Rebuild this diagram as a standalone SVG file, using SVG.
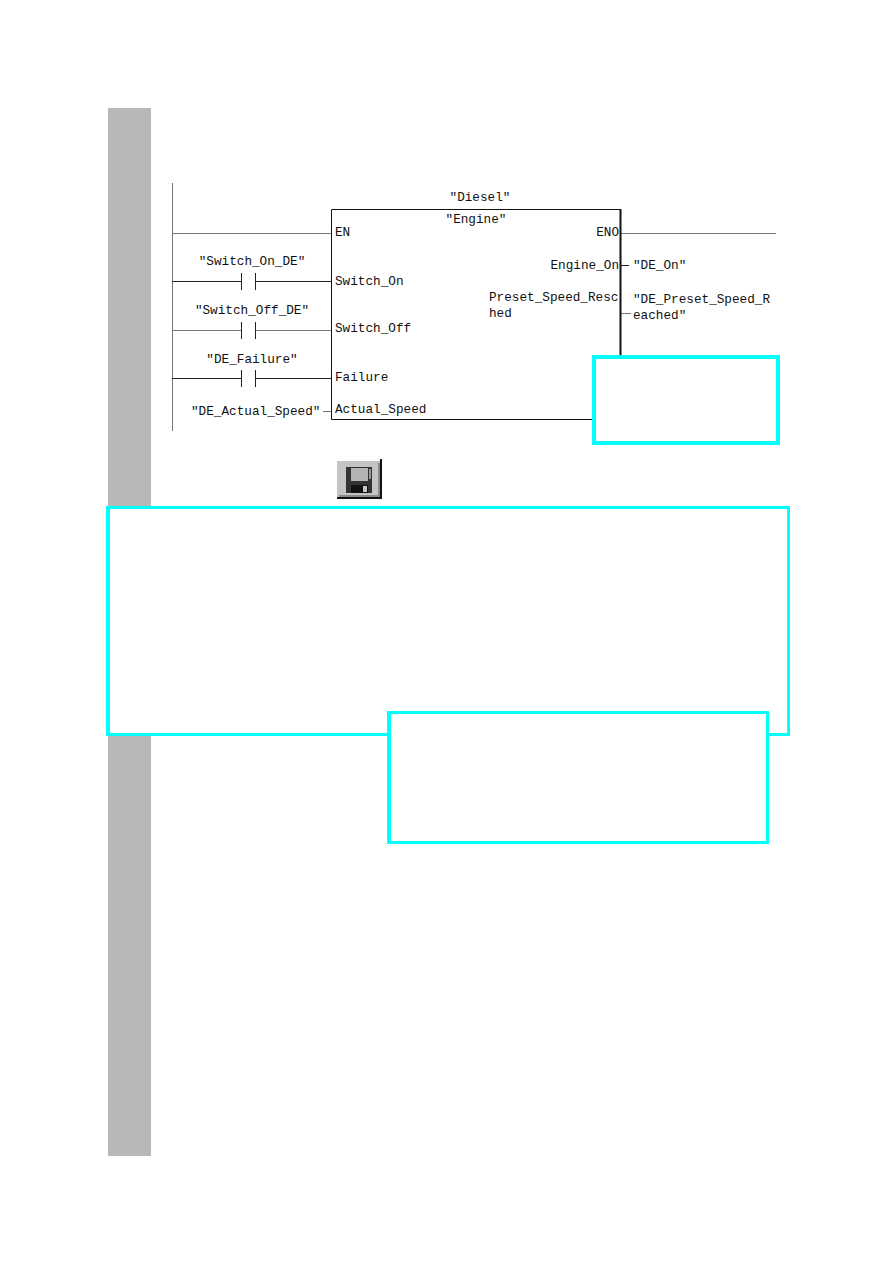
<svg xmlns="http://www.w3.org/2000/svg" width="893" height="1263" viewBox="0 0 893 1263">
  <style>
    text { font-family: "Liberation Mono", "DejaVu Sans Mono", monospace; font-size: 12.7px; fill: #111; }
    .end { text-anchor: end; }
    .mid { text-anchor: middle; }
    .rung { stroke: #222; stroke-width: 1; fill: none; }
    .pale { stroke: #777; stroke-width: 1; fill: none; }
    .face { fill: #fff; }
    .edge { fill: #00ffff; fill-rule: evenodd; }
  </style>
  <rect width="893" height="1263" fill="#fff"/>
  <rect id="margin-band" x="108" y="108" width="43" height="1048" fill="#b8b8b8"/>

  <g id="connectors">
    <path class="pale" d="M172.500 183V431"/>
    <path class="pale" d="M172 233.500H331"/>
    <path class="pale" d="M621 233.500H776"/>
    <path class="rung" d="M172 281.500H241M256 281.500H331M241.500 273V290M255.500 273V290"/>
    <path class="pale" d="M172 330.500H241M256 330.500H331"/>
    <path class="rung" d="M241.500 322V339M255.500 322V339"/>
    <path class="rung" d="M172 378.500H241M256 378.500H331M241.500 370V387M255.500 370V387"/>
    <path class="pale" d="M323 411.500H331"/>
    <path class="rung" d="M621 265.500H629"/>
    <path class="pale" d="M621 313.500H631"/>
  </g>

  <g id="fb-engine">
    <path d="M331.500 419.500V209.500H620.500V419.500Z" fill="#fff" stroke="#111" stroke-width="1"/>
    <path d="M620.500 209V420" stroke="#111" stroke-width="2" fill="none"/>
    <text class="mid" x="480" y="201">"Diesel"</text>
    <text class="mid" x="476" y="223">"Engine"</text>
    <text x="335" y="236">EN</text>
    <text class="end" x="619" y="236">ENO</text>
    <text x="335" y="285">Switch_On</text>
    <text x="335" y="332">Switch_Off</text>
    <text x="335" y="381">Failure</text>
    <text x="335" y="413">Actual_Speed</text>
    <text class="end" x="619" y="269">Engine_On</text>
    <text x="489" y="301">Preset_Speed_Resc</text>
    <text x="489" y="317">hed</text>
  </g>

  <g id="operands">
    <text class="mid" x="252" y="265">"Switch_On_DE"</text>
    <text class="mid" x="252" y="314">"Switch_Off_DE"</text>
    <text class="mid" x="252" y="363">"DE_Failure"</text>
    <text x="191" y="415">"DE_Actual_Speed"</text>
    <text x="633" y="269">"DE_On"</text>
    <text x="633" y="303">"DE_Preset_Speed_R</text>
    <text x="633" y="319">eached"</text>
  </g>

  <g id="callout-block">
    <rect class="face" x="592" y="355" width="188" height="90"/>
    <path class="edge" d="M592 355H780V445H592ZM596 359V441H776V359Z"/>
  </g>

  <g id="save-button">
    <rect x="337" y="461" width="43" height="36" fill="#c4c4c4"/>
    <path d="M381 459V498H337" stroke="#111" stroke-width="2" fill="none"/>
    <path d="M379 463V496H339" stroke="#8a8a8a" stroke-width="2" fill="none"/>
    <rect x="346" y="467" width="26" height="26" fill="#333"/>
    <rect x="351" y="468" width="17" height="13" fill="#b4b4b4"/>
    <rect x="351" y="485" width="17" height="8" fill="#111"/>
    <rect x="363" y="486" width="4" height="6" fill="#c8c8c8"/>
    <rect x="369" y="469" width="2" height="10" fill="#999"/>
  </g>

  <g id="callout-text">
    <rect class="face" x="106" y="506" width="684" height="230"/>
    <path class="edge" d="M106 506H790V736H106ZM110 509V733H787V509Z"/>
  </g>
  <g id="callout-note">
    <rect class="face" x="387" y="711" width="382" height="133"/>
    <path class="edge" d="M387 711H769V844H387ZM391 714V841H766V714Z"/>
  </g>
</svg>
